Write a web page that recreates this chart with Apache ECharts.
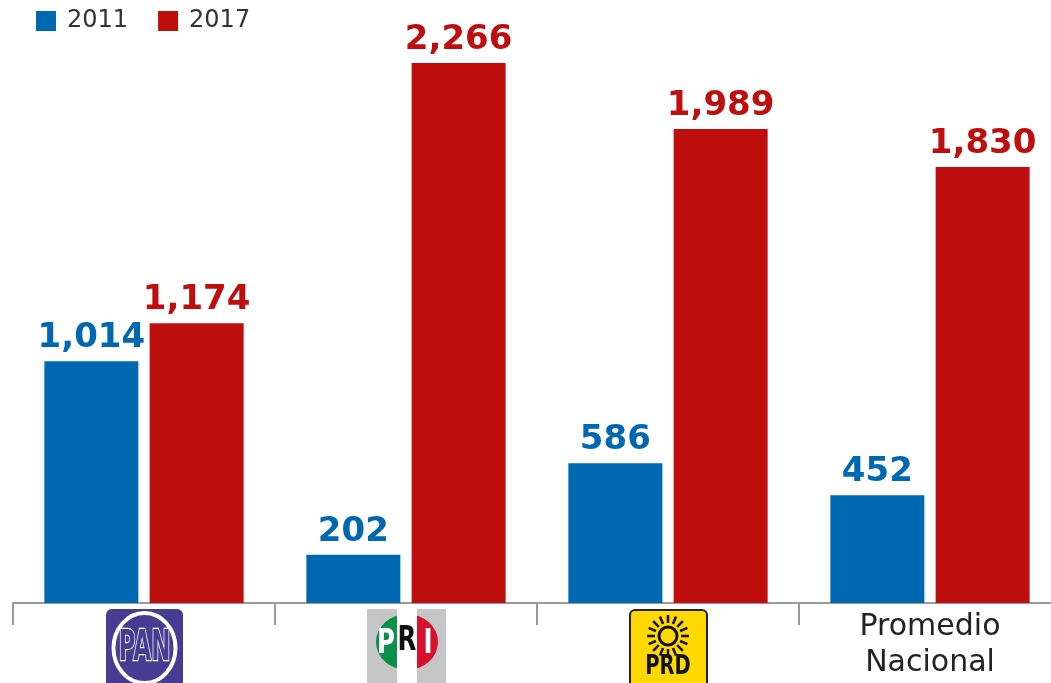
<!DOCTYPE html>
<html>
<head>
<meta charset="utf-8">
<script src="https://cdn.jsdelivr.net/npm/echarts@6/dist/echarts.min.js"></script>
<style>
  html, body { margin: 0; padding: 0; background: #fff; }
  #chart { width: 1051px; height: 683px; }
</style>
</head>
<body>
<div id="chart"></div>
<script>
// datos
const categories = ['PAN', 'PRI', 'PRD', 'Promedio\nNacional']
const years = ['2011', '2017']
const values2011 = [1014, 202, 586, 452]
const values2017 = [1174, 2266, 1989, 1830]

const BLUE = '#0067b1'
const RED = '#be0e0e'

const chart = echarts.init(document.getElementById('chart'))

const labelStyle = (color) => ({
  show: true,
  position: 'top',
  distance: 6,
  color: color,
  fontFamily: 'DejaVu Sans',
  fontWeight: 'bold',
  fontSize: 34,
  formatter: (p) => p.value.toLocaleString('en-US')
})

chart.setOption({
  animation: false,
  legend: {
    data: years,
    left: 31,
    top: 4,
    itemWidth: 20,
    itemHeight: 20,
    itemGap: 30,
    icon: 'rect',
    textStyle: { fontSize: 24, color: '#333', fontFamily: 'DejaVu Sans', padding: [0, 0, 0, 6] }
  },
  // la rejilla sale un poco por la derecha, como en el original
  grid: { left: 13, top: 63, width: 1048, height: 540, outerBoundsMode: 'none', containLabel: false },
  xAxis: {
    type: 'category',
    data: categories,
    axisLine: { lineStyle: { color: '#9a9a9a', width: 2 } },
    axisTick: { show: true, interval: 0, length: 22, lineStyle: { color: '#9a9a9a', width: 2 } },
    axisLabel: {
      margin: 6,
      fontSize: 30,
      lineHeight: 36,
      color: '#222',
      fontFamily: 'DejaVu Sans',
      // los logos se dibujan aparte
      formatter: (v) => (v.indexOf('Promedio') === 0 ? v : '')
    }
  },
  yAxis: { type: 'value', min: 0, max: 2266, show: false },
  series: [
    {
      name: '2011',
      type: 'bar',
      data: values2011,
      barWidth: 94,
      barGap: '12%',
      itemStyle: { color: BLUE },
      label: labelStyle(BLUE)
    },
    {
      name: '2017',
      type: 'bar',
      data: values2017,
      barWidth: 94,
      itemStyle: { color: RED },
      label: labelStyle(RED)
    }
  ]
})

// logos de los partidos bajo el eje
function drawLogos () {
  const top = 609
  const xPan = chart.convertToPixel({ xAxisIndex: 0 }, 'PAN')
  const xPri = chart.convertToPixel({ xAxisIndex: 0 }, 'PRI')
  const xPrd = chart.convertToPixel({ xAxisIndex: 0 }, 'PRD')
  const purple = '#473c91'

  const pan = {
    type: 'group',
    x: xPan,
    y: top,
    children: [
      { type: 'rect', shape: { x: -38, y: 0, width: 77, height: 80, r: 6 }, style: { fill: purple } },
      { type: 'ellipse', shape: { cx: 0.5, cy: 39, rx: 31, ry: 35 }, style: { fill: purple, stroke: '#fff', lineWidth: 4 } },
      {
        type: 'text',
        x: 0.5,
        y: 40,
        scaleX: 0.55,
        style: {
          text: 'PAN',
          x: 0,
          y: 0,
          align: 'center',
          verticalAlign: 'middle',
          font: 'bold 42px "DejaVu Sans"',
          fill: purple,
          stroke: '#fff',
          lineWidth: 2.5
        }
      }
    ]
  }

  const pri = {
    type: 'group',
    x: xPri,
    y: top,
    children: [
      { type: 'rect', shape: { x: -39, y: 0, width: 79, height: 80 }, style: { fill: '#c6c6c6' } },
      {
        type: 'group',
        x: 1,
        y: 33,
        scaleX: 31 / 28,
        children: [
          { type: 'sector', shape: { cx: 0, cy: 0, r: 28, startAngle: Math.PI / 2, endAngle: Math.PI * 1.5 }, style: { fill: '#0b8f4b' } },
          { type: 'sector', shape: { cx: 0, cy: 0, r: 28, startAngle: -Math.PI / 2, endAngle: Math.PI / 2 }, style: { fill: '#d8102e' } }
        ]
      },
      { type: 'rect', shape: { x: -9, y: 0, width: 20, height: 80 }, style: { fill: '#fff' } },
      { type: 'text', x: -20, y: 35, scaleX: 0.72, style: { text: 'P', align: 'center', verticalAlign: 'middle', font: 'bold 34px "DejaVu Sans"', fill: '#fff' } },
      { type: 'text', x: 1, y: 32, scaleX: 0.72, style: { text: 'R', align: 'center', verticalAlign: 'middle', font: 'bold 34px "DejaVu Sans"', fill: '#111' } },
      { type: 'text', x: 22, y: 35, scaleX: 0.72, style: { text: 'I', align: 'center', verticalAlign: 'middle', font: 'bold 34px "DejaVu Sans"', fill: '#fff' } }
    ]
  }

  const rays = []
  const n = 16
  for (let i = 0; i < n; i++) {
    const a = (i / n) * Math.PI * 2
    rays.push({
      type: 'line',
      shape: { x1: Math.cos(a) * 13, y1: 27 + Math.sin(a) * 13, x2: Math.cos(a) * 21, y2: 27 + Math.sin(a) * 21 },
      style: { stroke: '#111', lineWidth: 2.5 }
    })
  }

  const prd = {
    type: 'group',
    x: xPrd,
    y: top,
    children: [
      { type: 'rect', shape: { x: -38, y: 1, width: 77, height: 80, r: 5 }, style: { fill: '#ffd800', stroke: '#222', lineWidth: 2 } },
      { type: 'circle', shape: { cx: 0, cy: 27, r: 9 }, style: { fill: 'none', stroke: '#111', lineWidth: 3 } }
    ].concat(rays).concat([
      { type: 'text', x: 0, y: 58, scaleX: 0.75, style: { text: 'PRD', align: 'center', verticalAlign: 'middle', font: 'bold 26px "DejaVu Sans"', fill: '#111' } }
    ])
  }

  chart.setOption({ graphic: [pan, pri, prd] })
}

drawLogos()
</script>
</body>
</html>
